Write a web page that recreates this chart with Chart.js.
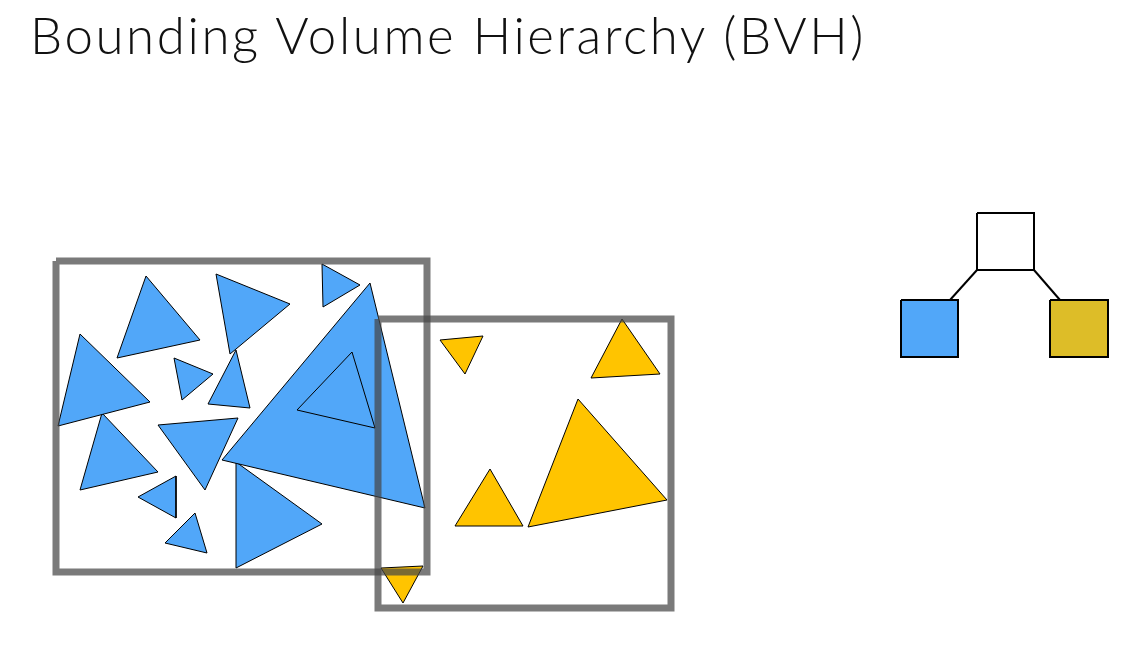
<!DOCTYPE html>
<html><head><meta charset="utf-8">
<script src="https://cdn.jsdelivr.net/npm/chart.js@4"></script>
<style>
html,body{margin:0;padding:0;background:#fff;width:1138px;height:657px;overflow:hidden}
#t{position:absolute;left:30px;top:4px;font-family:Lato,"Open Sans",sans-serif;font-weight:300;font-size:51px;color:#111;letter-spacing:2.6px;white-space:nowrap}
canvas{position:absolute;left:0;top:0}
</style></head><body>
<canvas id="c" width="1138" height="657"></canvas>
<div id="t">Bounding Volume Hierarchy (BVH)</div>
<script>
const titleText = "Bounding Volume Hierarchy (BVH)";
const blueTriangles = [
 [[146,276],[117,358],[200,340]],
 [[216,274],[290,304],[230,354]],
 [[322,264],[360,285],[323,307]],
 [[80,334],[58,426],[150,402]],
 [[174,358],[213,374],[182,400]],
 [[236,350],[208,404],[250,408]],
 [[370,283],[222,460],[425,508]],
 [[102,413],[80,490],[158,472]],
 [[158,425],[238,418],[205,490]],
 [[138,497],[176,476],[176,518]],
 [[195,513],[165,543],[207,553]],
 [[236,462],[322,524],[236,568]]
];
const outlineTriangles = [ [[352,352],[297,410],[375,428]] ];
const yellowTriangles = [
 [[440,340],[483,336],[465,374]],
 [[622,319],[591,378],[660,374]],
 [[578,399],[528,527],[667,500]],
 [[490,469],[455,526],[523,526]],
 [[381,568],[423,566],[403,603]]
];
const boundingBoxes = [ [56,261,427,572], [378,319,671,608] ];
const treeNodes = [ [977,213,1034,270,'#ffffff'], [901,300,958,357,'#51A7F9'], [1050,300,1108,357,'#DDBD28'] ];
const treeEdges = [ [[977,270],[950,300]], [[1034,270],[1060,300]] ];

const pts = a => a.map(p=>({x:p[0],y:p[1]}));
const closed = a => pts([...a, a[0]]);
const rect = r => closed([[r[0],r[1]],[r[2],r[1]],[r[2],r[3]],[r[0],r[3]]]);
const base = {showLine:true,pointRadius:0,tension:0,borderJoinStyle:'miter'};
const ds = [];
blueTriangles.forEach(t=>ds.push({...base,data:closed(t),backgroundColor:'#51A7F9',borderColor:'#000',borderWidth:1,fill:'shape',order:4}));
yellowTriangles.forEach(t=>ds.push({...base,data:closed(t),backgroundColor:'#FFC400',borderColor:'#000',borderWidth:1,fill:'shape',order:4}));
outlineTriangles.forEach(t=>ds.push({...base,data:closed(t),borderColor:'#000',borderWidth:1,fill:false,order:3}));
boundingBoxes.forEach(b=>ds.push({...base,data:rect(b),borderColor:'rgba(70,70,70,0.72)',borderWidth:7,fill:false,order:1}));
treeEdges.forEach(e=>ds.push({...base,data:pts(e),borderColor:'#000',borderWidth:2,fill:false,order:2}));
treeNodes.forEach(n=>ds.push({...base,data:rect(n),backgroundColor:n[4],borderColor:'#000',borderWidth:2,fill:'shape',order:2}));

new Chart(document.getElementById('c'),{
 type:'scatter',
 data:{datasets:ds},
 options:{responsive:false,animation:false,devicePixelRatio:1,
  layout:{padding:0},
  plugins:{legend:{display:false},tooltip:{enabled:false},title:{display:false}},
  scales:{x:{type:'linear',min:0,max:1138,display:false},
          y:{type:'linear',min:0,max:657,reverse:true,display:false}}}
});
</script></body></html>
